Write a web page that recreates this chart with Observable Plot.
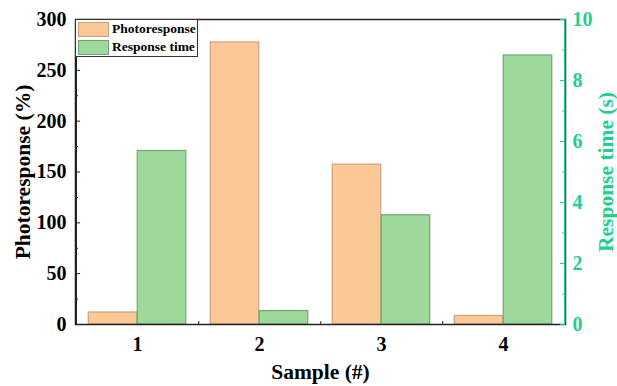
<!DOCTYPE html>
<html><head><meta charset="utf-8">
<script src="https://cdn.jsdelivr.net/npm/d3@7"></script>
<script src="https://cdn.jsdelivr.net/npm/@observablehq/plot@0.6"></script>
<style>
body{margin:0;background:#fff;}
#wrap{position:relative;width:617px;height:386px;font-family:"Liberation Serif","Times New Roman",serif;font-weight:bold;}
#legend{position:absolute;left:75px;top:19px;width:123px;height:38px;border:1.5px solid #333;background:#fff;box-sizing:border-box;}
.li{position:absolute;left:2px;display:flex;align-items:center;font-size:13.5px;color:#000;font-weight:bold;white-space:nowrap;}
.sw{width:31px;height:15px;box-sizing:border-box;margin-right:3px;}
</style></head>
<body><div id="wrap"></div>
<script>
const samples = ["1","2","3","4"];
const photoresponse = [11.8, 277.4, 157.2, 8.4];
const responseTime = [5.69, 0.44, 3.58, 8.82];
const leftTicks = [0,50,100,150,200,250,300];
const leftMinor = [25,75,125,175,225,275];
const rightTicks = [0,2,4,6,8,10];
const rightMinor = [1,3,5,7,9];
const seriesNames = ["Photoresponse","Response time"];

const orange = "#fcc896", orangeStroke = "#c9a27c";
const green = "#9ed99b", greenStroke = "#72a56f";
const teal = "#1fd08c";
const k = 30; // 10 s maps to 300 on the shared y scale

const W = 617, H = 386, mL = 75, mR = 52, mT = 19, mB = 62;
const pw = W - mL - mR, ph = H - mT - mB;
const bw = pw / samples.length;

const photoData = samples.map((s,i)=>({s, v: photoresponse[i]}));
const timeData = samples.map((s,i)=>({s, v: responseTime[i]*k}));

const chart = Plot.plot({
  width: W, height: H,
  marginLeft: mL, marginRight: mR, marginTop: mT, marginBottom: mB,
  style: {fontFamily: "Liberation Serif, serif", fontWeight: "bold", fontSize: "20px", color: "#000", background: "#fff"},
  x: {domain: samples, padding: 0, label: null},
  y: {domain: [0,300], label: null},
  marks: [
    Plot.barY(photoData, {x: "s", y: "v", fill: orange, stroke: orangeStroke, strokeWidth: 1.2,
      insetLeft: bw*0.1, insetRight: bw*0.5}),
    Plot.barY(timeData, {x: "s", y: "v", fill: green, stroke: greenStroke, strokeWidth: 1.2,
      insetLeft: bw*0.5, insetRight: bw*0.1}),
    Plot.frame({stroke: "#222", strokeWidth: 1.5}),
    // explicit left/right edges
    Plot.ruleX([samples[0]], {x: d=>d, dx: -bw/2, y1: 0, y2: 300, stroke: "#222", strokeWidth: 1.5}),
    Plot.ruleX([samples[samples.length-1]], {x: d=>d, dx: bw/2, y1: 0, y2: 300, stroke: teal, strokeWidth: 1.5}),
    // left axis
    Plot.axisY({anchor: "left", ticks: leftTicks, tickSize: 0, tickPadding: 9, label: null}),
    Plot.ruleY(leftTicks, {stroke: "#222", strokeWidth: 1, insetRight: pw - 5}),
    Plot.ruleY(leftMinor, {stroke: "#222", strokeWidth: 1, insetRight: pw - 3}),
    // right axis
    Plot.axisY({anchor: "right", ticks: rightTicks.map(d=>d*k), tickFormat: d => d/k, tickSize: 0, tickPadding: 7,
      label: null, color: teal, fill: teal}),
    Plot.ruleY(rightTicks.map(d=>d*k), {stroke: teal, strokeWidth: 1, insetLeft: pw - 5}),
    Plot.ruleY(rightMinor.map(d=>d*k), {stroke: teal, strokeWidth: 1, insetLeft: pw - 3}),
    // x axis
    Plot.axisX({tickSize: 0, tickPadding: 12, label: null}),
    Plot.ruleX(samples.slice(0,3), {x: d=>d, dx: bw/2, stroke: "#222", insetTop: ph - 3}),
    // axis titles
    Plot.text(["Photoresponse (%)"], {frameAnchor: "left", dx: -52, rotate: -90, textAnchor: "middle", fontSize: 21.5, fontWeight: "bold", fill: "#000"}),
    Plot.text(["Response time (s)"], {frameAnchor: "right", dx: 41, rotate: -90, textAnchor: "middle", fontSize: 21.5, fontWeight: "bold", fill: teal}),
    Plot.text(["Sample (#)"], {frameAnchor: "bottom", dy: 54, fontSize: 21.5, fontWeight: "bold", fill: "#000"})
  ]
});
const wrap = document.getElementById("wrap");
wrap.appendChild(chart);

const legend = document.createElement("div");
legend.id = "legend";
const cols = [[orange, orangeStroke],[green, greenStroke]];
seriesNames.forEach((n,i)=>{
  const row = document.createElement("div");
  row.className = "li";
  row.style.top = (i===0 ? 1 : 19) + "px";
  row.innerHTML = `<div class="sw" style="background:${cols[i][0]};border:1px solid ${cols[i][1]}"></div><span>${n}</span>`;
  legend.appendChild(row);
});
wrap.appendChild(legend);
</script></body></html>
